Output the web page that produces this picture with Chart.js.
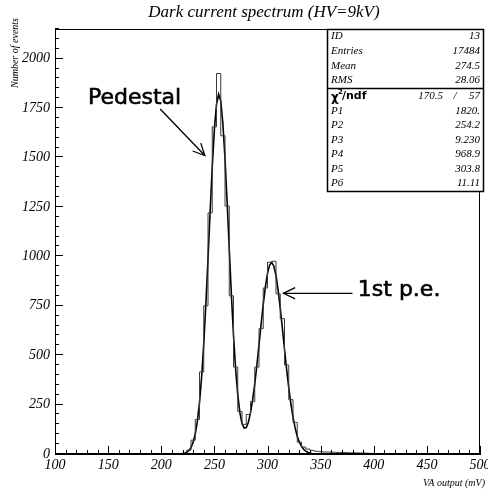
<!DOCTYPE html>
<html><head><meta charset="utf-8">
<script src="https://cdn.jsdelivr.net/npm/chart.js@4.4.0/dist/chart.umd.min.js"></script>
<style>html,body{margin:0;padding:0;background:#fff;}canvas{display:block;}</style>
</head><body>
<canvas id="c" width="488" height="495"></canvas>
<script>
// ---- data ----
const chartTitle = 'Dark current spectrum (HV=9kV)';
const xTitle = 'VA output (mV)';
const yTitle = 'Number of events';

const binStart = 100;   // mV, lower edge of first bin
const binWidth = 4;     // mV
const counts = [
  0,0,0,0,0,0,0,0,0,0, 0,0,0,0,0,0,0,0,0,0, 0,0,0,0,0,0,0,0,0,0,
  3,20,70,175,415,750,1220,1655,1925,1610,1255,800,440,215,150,200,265,440,635,840,
  970,975,810,685,450,275,160,60,35,25,18,14,12,10,10,9,8,8,7,6,6,5,5,4,3,2,2,1,1,
  0,0,0,0,0,0,0,0,0,0, 0,0,0,0,0,0,0,0,0,0, 0
];

const fitX = [216,218,220,222,224,226,228,230,232,234,236,238,240,242,244,246,248,250,252,254,
  256,258,260,262,264,266,268,270,272,274,276,278,280,282,284,286,288,290,292,294,
  296,298,300,302,304,306,308,310,312,314,316,318,320,322,324,326,328,330,332,334,
  336,338,340,342,344,346];
const fitY = [0.3,0.8,1.9,4.1,8.6,17,32,59,101,166,260,390,558,760,988,1227,1452,1641,1769,1820,
  1786,1672,1494,1275,1038,807,600,430,300,209,154,131,134,161,208,274,354,449,552,657,
  757,845,914,956,969,950,902,829,738,636,530,428,335,253,186,132,90,60,39,24,
  14.5,8.5,4.8,2.6,1.4,0.7];

const xTickValues = [100,150,200,250,300,350,400,450,500];
const yTickValues = [0,250,500,750,1000,1250,1500,1750,2000];

const statLabels = ['ID','Entries','Mean','RMS'];
const statValues = ['13','17484','274.5','28.06'];
const chi2 = '170.5';
const ndf = '57';
const parLabels = ['P1','P2','P3','P4','P5','P6'];
const parValues = ['1820.','254.2','9.230','968.9','303.8','11.11'];

const noteTexts = ['Pedestal','1st p.e.'];

// ---- layout / styles ----
const SERIF = '"Liberation Serif", "Times New Roman", serif';
const SANS = '"DejaVu Sans", sans-serif';
const notePlaces = [
  {tx: 131, ty: 1800, ax1: 199, ay1: 1745, ax2: 241, ay2: 1510},
  {tx: 385, ty: 828, ax1: 380, ay1: 813, ax2: 315, ay2: 813}
];

const histPoints = counts.map((c, i) => ({x: binStart + i * binWidth, y: c}));
histPoints.push({x: binStart + counts.length * binWidth, y: counts[counts.length - 1]});
const fitPoints = fitX.map((v, i) => ({x: v, y: fitY[i]}));

function line(ctx, x1, y1, x2, y2) { ctx.beginPath(); ctx.moveTo(x1, y1); ctx.lineTo(x2, y2); ctx.stroke(); }
function arrow(ctx, x1, y1, x2, y2) {
  line(ctx, x1, y1, x2, y2);
  const ang = Math.atan2(y2 - y1, x2 - x1), L = 13, h = 0.45;
  ctx.beginPath();
  ctx.moveTo(x2 - L * Math.cos(ang - h), y2 - L * Math.sin(ang - h));
  ctx.lineTo(x2, y2);
  ctx.lineTo(x2 - L * Math.cos(ang + h), y2 - L * Math.sin(ang + h));
  ctx.stroke();
}

const decor = {
  id: 'decor',
  afterDraw(chart) {
    const {ctx, chartArea: a, scales: {x, y}} = chart;
    ctx.save();
    ctx.strokeStyle = '#000';
    ctx.fillStyle = '#000';
    ctx.lineWidth = 1;
    // frame
    ctx.strokeRect(Math.round(a.left) + 0.5, Math.round(a.top) + 0.5, Math.round(a.right - a.left) - 1, Math.round(a.bottom - a.top) - 1);
    // inward ticks
    for (let v = 100; v <= 500; v += 10) {
      const px = Math.round(x.getPixelForValue(v)) + 0.5;
      const len = v % 50 === 0 ? 8 : 4;
      line(ctx, px, a.bottom, px, a.bottom - len);
    }
    for (let v = 0; v <= 2150; v += 50) {
      const py = Math.round(y.getPixelForValue(v)) - 0.5;
      const len = v % 250 === 0 ? 8 : 4;
      line(ctx, a.left, py, a.left + len, py);
    }
    // title
    ctx.font = 'italic 17px ' + SERIF;
    ctx.textAlign = 'center'; ctx.textBaseline = 'middle';
    ctx.fillText(chartTitle, 264, 13);
    // axis titles
    ctx.font = 'italic 10px ' + SERIF;
    ctx.textAlign = 'right'; ctx.textBaseline = 'middle';
    ctx.fillText(xTitle, 485, 483);
    ctx.save();
    ctx.translate(15, 18);
    ctx.rotate(-Math.PI / 2);
    ctx.textAlign = 'right';
    ctx.fillText(yTitle, 0, 0);
    ctx.restore();

    // stats box
    const bx = 327, by = Math.round(a.top), bw = 156, bh = 162;
    ctx.fillStyle = '#fff';
    ctx.fillRect(bx, by, bw, bh);
    ctx.fillStyle = '#000';
    ctx.lineWidth = 1.5;
    ctx.strokeRect(bx + 0.5, by + 0.5, bw, bh);
    line(ctx, bx, by + 59.5, bx + bw, by + 59.5);
    ctx.lineWidth = 1;
    ctx.font = 'italic 11px ' + SERIF;
    ctx.textBaseline = 'middle';
    const rowY0 = by + 7.5, rowH = 14.6;
    statLabels.forEach((lab, i) => {
      const yy = rowY0 + i * rowH;
      ctx.textAlign = 'left'; ctx.fillText(lab, bx + 4, yy);
      ctx.textAlign = 'right'; ctx.fillText(statValues[i], bx + bw - 3, yy);
    });
    // chi2 row
    const cy = by + 67.5;
    ctx.textAlign = 'left';
    ctx.font = 'bold 12px ' + SANS;
    ctx.fillText('\u03C7', bx + 4, cy + 1);
    ctx.font = 'bold 7px ' + SANS;
    ctx.fillText('2', bx + 11, cy - 4);
    ctx.font = 'bold 11px ' + SANS;
    ctx.fillText('/ndf', bx + 15, cy);
    ctx.font = 'italic 11px ' + SERIF;
    ctx.textAlign = 'right';
    ctx.fillText(chi2, bx + 116, cy);
    ctx.textAlign = 'center';
    ctx.fillText('/', bx + 128, cy);
    ctx.textAlign = 'right';
    ctx.fillText(ndf, bx + bw - 3, cy);
    parLabels.forEach((lab, i) => {
      const yy = by + 82 + i * 14.5;
      ctx.textAlign = 'left'; ctx.fillText(lab, bx + 4, yy);
      ctx.textAlign = 'right'; ctx.fillText(parValues[i], bx + bw - 3, yy);
    });

    // annotations
    ctx.font = '22px ' + SANS;
    ctx.textAlign = 'left'; ctx.textBaseline = 'middle';
    noteTexts.forEach((t, i) => {
      const p = notePlaces[i];
      const tx = x.getPixelForValue(p.tx), ty = y.getPixelForValue(p.ty);
      ctx.lineWidth = 0.6;
      ctx.fillText(t, tx, ty);
      ctx.strokeText(t, tx, ty);
      ctx.lineWidth = 1.3;
      arrow(ctx, x.getPixelForValue(p.ax1), y.getPixelForValue(p.ay1), x.getPixelForValue(p.ax2), y.getPixelForValue(p.ay2));
    });
    ctx.restore();
  }
};

const tickFont = {family: SERIF, size: 14, style: 'italic'};

new Chart(document.getElementById('c'), {
  type: 'scatter',
  data: {
    datasets: [
      {label: 'Histogram', data: histPoints, showLine: true, stepped: 'before',
       borderColor: '#3a3a3a', borderWidth: 1, pointRadius: 0, fill: false},
      {label: 'Fit', data: fitPoints, showLine: true, tension: 0,
       borderColor: '#000', borderWidth: 1.6, pointRadius: 0, fill: false}
    ]
  },
  options: {
    responsive: false, animation: false, devicePixelRatio: 1,
    layout: {padding: {top: 29, right: 8, left: 0, bottom: 0}},
    plugins: {legend: {display: false}, tooltip: {enabled: false}, title: {display: false}},
    scales: {
      x: {
        type: 'linear', min: 100, max: 500,
        afterBuildTicks: s => { s.ticks = xTickValues.map(v => ({value: v})); },
        ticks: {font: tickFont, color: '#000', padding: 3, maxRotation: 0, autoSkip: false,
                callback: v => String(v)},
        grid: {display: false, drawTicks: false},
        border: {display: true, color: '#000', width: 1},
        afterFit: s => { s.height = 41; s.paddingLeft = 0; s.paddingRight = 0; }
      },
      y: {
        type: 'linear', min: 0, max: 2150,
        afterBuildTicks: s => { s.ticks = yTickValues.map(v => ({value: v})); },
        ticks: {font: tickFont, color: '#000', padding: 5, autoSkip: false,
                callback: v => String(v)},
        grid: {display: false, drawTicks: false},
        border: {display: true, color: '#000', width: 1},
        afterFit: s => { s.width = 55; s.paddingTop = 0; s.paddingBottom = 0; }
      }
    }
  },
  plugins: [decor]
});
</script>
</body></html>
